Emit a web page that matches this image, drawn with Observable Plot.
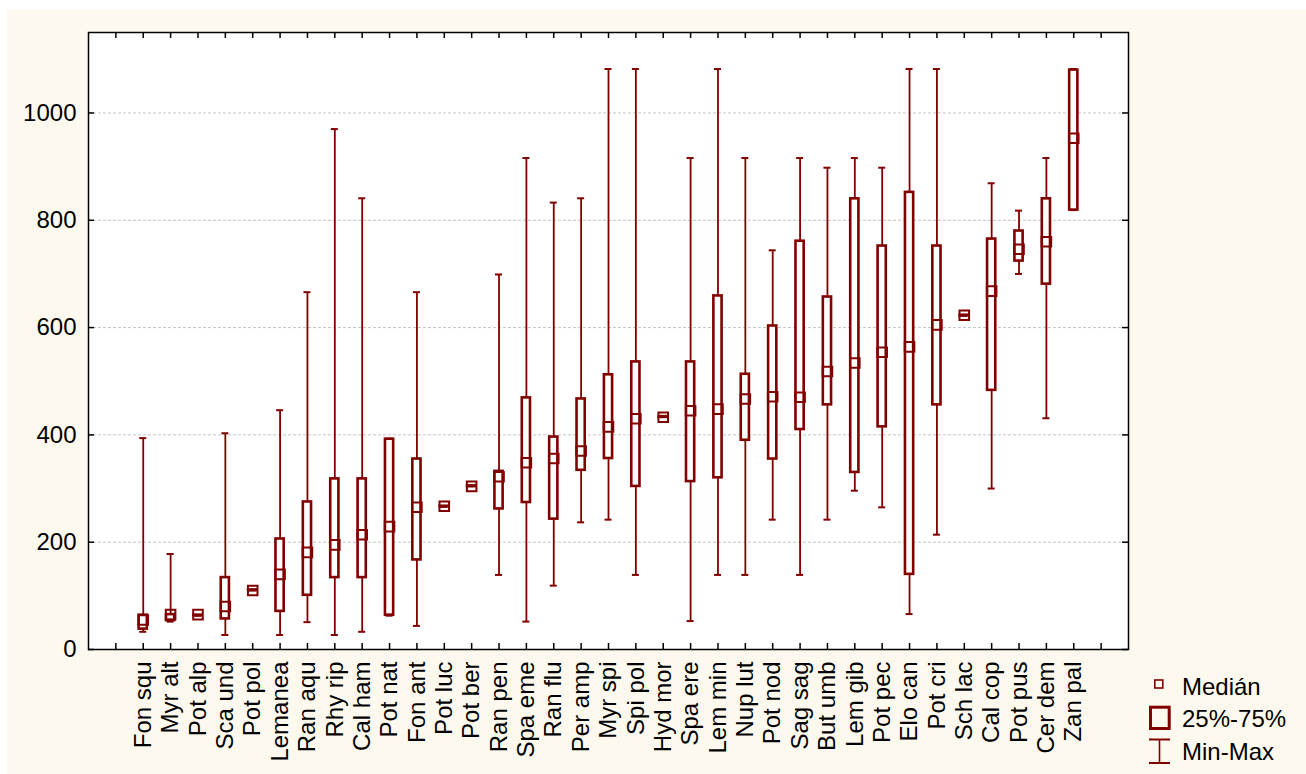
<!DOCTYPE html>
<html>
<head>
<meta charset="utf-8">
<script src="https://cdn.jsdelivr.net/npm/d3@7"></script>
<script src="https://cdn.jsdelivr.net/npm/@observablehq/plot@0.6"></script>
<style>
  html, body { margin: 0; padding: 0; background: #ffffff; }
  #wrap { position: relative; width: 1306px; height: 774px; overflow: hidden; }
  #cream { position: absolute; left: 7px; top: 10px; right: 0; bottom: 0; background: #fdf9ee; }
  #chart { position: absolute; left: 0; top: 0; }
  #legend { position: absolute; left: 0; top: 0; pointer-events: none; }
  #legend text { font-family: Arial, "Liberation Sans", sans-serif; font-size: 24px; fill: #000; }
</style>
</head>
<body>
<div id="wrap">
  <div id="cream"></div>
  <div id="chart"></div>
  <svg id="legend" width="1306" height="774">
    <rect x="1154.8" y="680" width="8" height="8" fill="none" stroke="#800000" stroke-width="1.6"></rect>
    <text x="1182" y="695">Medián</text>
    <rect x="1150.5" y="707.2" width="18.7" height="21.3" fill="none" stroke="#800000" stroke-width="3"></rect>
    <text x="1182" y="727">25%-75%</text>
    <line x1="1149" y1="739.5" x2="1170" y2="739.5" stroke="#800000" stroke-width="2"></line>
    <line x1="1159.5" y1="739.5" x2="1159.5" y2="763" stroke="#800000" stroke-width="1.6"></line>
    <line x1="1149" y1="763" x2="1170" y2="763" stroke="#800000" stroke-width="2"></line>
    <text x="1182" y="760">Min-Max</text>
  </svg>
</div>
<script>
// ---- data ----
const categories = ["Fon squ","Myr alt","Pot alp","Sca und","Pot pol","Lemanea","Ran aqu","Rhy rip","Cal ham","Pot nat",
  "Fon ant","Pot luc","Pot ber","Ran pen","Spa eme","Ran flu","Per amp","Myr spi","Spi pol","Hyd mor",
  "Spa ere","Lem min","Nup lut","Pot nod","Sag sag","But umb","Lem gib","Pot pec","Elo can","Pot cri",
  "Sch lac","Cal cop","Pot pus","Cer dem","Zan pal"];
const minVals    = [33, 52, 63, 27, 110, 27, 51, 27, 33, 63, 44, 266, 304, 139, 52, 119, 237, 242, 139, 433, 53, 139, 139, 242, 139, 242, 296, 265, 66, 214, 622, 300, 700, 431, 819];
const q1Vals     = [38, 54, 63, 57, 110, 71, 101, 134, 134, 64, 167, 266, 304, 262, 274, 243, 334, 356, 304, 433, 313, 320, 390, 355, 410, 456, 330, 415, 140, 456, 622, 483, 724, 681, 819];
const medianVals = [55, 65, 65, 80, 110, 140, 181, 195, 214, 229, 265, 267, 304, 322, 348, 356, 370, 415, 430, 433, 445, 448, 467, 471, 470, 518, 534, 554, 564, 605, 623, 668, 746, 760, 953];
const q3Vals     = [64, 65, 64, 134, 111, 206, 275, 318, 318, 392, 355, 267, 305, 332, 469, 396, 467, 512, 536, 434, 536, 659, 513, 603, 761, 657, 840, 752, 852, 752, 623, 765, 780, 840, 1080];
const maxVals    = [394, 178, 64, 403, 111, 446, 666, 970, 841, 393, 666, 267, 305, 699, 916, 833, 841, 1082, 1082, 434, 916, 1082, 916, 744, 916, 898, 916, 898, 1082, 1082, 623, 869, 818, 916, 1082];
const yTickValues = [0, 200, 400, 600, 800, 1000];
const gridValues = [200, 400, 600, 800, 1000];

// ---- layout ----
const W = 1306, H = 774;
const mL = 88, mR = 178, mT = 32, mB = 125;
const xMax = categories.length + 3;   // 38 slots: one empty tick slot on each side
const yMax = 1150;
const pxPerY = (H - mT - mB) / yMax;
const pxPerX = (W - mL - mR) / xMax;
const tickLenY = 6 / pxPerY, tickLenX = 6 / pxPerX;
const boxHalf = 4.1 / pxPerX, capHalf = 3.5 / pxPerX;
const red = "#800000";

const rows = categories.map((c, i) => ({
  cat: c, pos: i + 2,
  min: minVals[i], q1: q1Vals[i], med: medianVals[i], q3: q3Vals[i], max: maxVals[i]
}));
const allTicks = d3.range(1, xMax);

const chart = Plot.plot({
  width: W, height: H,
  marginLeft: mL, marginRight: mR, marginTop: mT, marginBottom: mB,
  style: {background: "transparent", overflow: "visible", fontSize: "24px",
          fontFamily: "Arial, 'Liberation Sans', sans-serif", color: "#000"},
  x: {type: "linear", domain: [0, xMax]},
  y: {type: "linear", domain: [0, yMax]},
  marks: [
    Plot.frame({fill: "white"}),
    Plot.ruleY(gridValues, {y: d => d, stroke: "#c4c4c4", strokeDasharray: "3,2", strokeWidth: 1}),
    // whiskers
    Plot.ruleX(rows.filter(d => d.max > d.min), {x: "pos", y1: "min", y2: "max", stroke: red, strokeWidth: 1.8}),
    Plot.ruleY(rows, {y: "min", x1: d => d.pos - capHalf, x2: d => d.pos + capHalf, stroke: red, strokeWidth: 2}),
    Plot.ruleY(rows, {y: "max", x1: d => d.pos - capHalf, x2: d => d.pos + capHalf, stroke: red, strokeWidth: 2}),
    // boxes
    Plot.rect(rows, {x1: d => d.pos - boxHalf, x2: d => d.pos + boxHalf, y1: "q1", y2: "q3",
                     fill: "white", stroke: red, strokeWidth: 2.6}),
    // medians
    Plot.dot(rows, {x: "pos", y: "med", symbol: "square", r: 5.4, fill: "none", stroke: red, strokeWidth: 2}),
    // inward ticks
    Plot.ruleX(allTicks, {x: d => d, y1: 0, y2: tickLenY, stroke: "#000", strokeWidth: 1.5}),
    Plot.ruleX(allTicks, {x: d => d, y1: yMax - tickLenY, y2: yMax, stroke: "#000", strokeWidth: 1.5}),
    Plot.ruleY(yTickValues, {y: d => d, x1: 0, x2: tickLenX, stroke: "#000", strokeWidth: 1.5}),
    Plot.ruleY(yTickValues, {y: d => d, x1: xMax - tickLenX, x2: xMax, stroke: "#000", strokeWidth: 1.5}),
    // axes labels
    Plot.axisY(yTickValues, {tickSize: 0, tickPadding: 12, label: null, tickFormat: d => String(d)}),
    Plot.axisX(rows.map(d => d.pos), {tickSize: 0, tickPadding: 12, tickRotate: -90, label: null,
                tickFormat: d => categories[d - 2]}),
    Plot.frame({stroke: "#000", strokeWidth: 1.5})
  ]
});
document.getElementById("chart").appendChild(chart);
</script>
</body>
</html>
